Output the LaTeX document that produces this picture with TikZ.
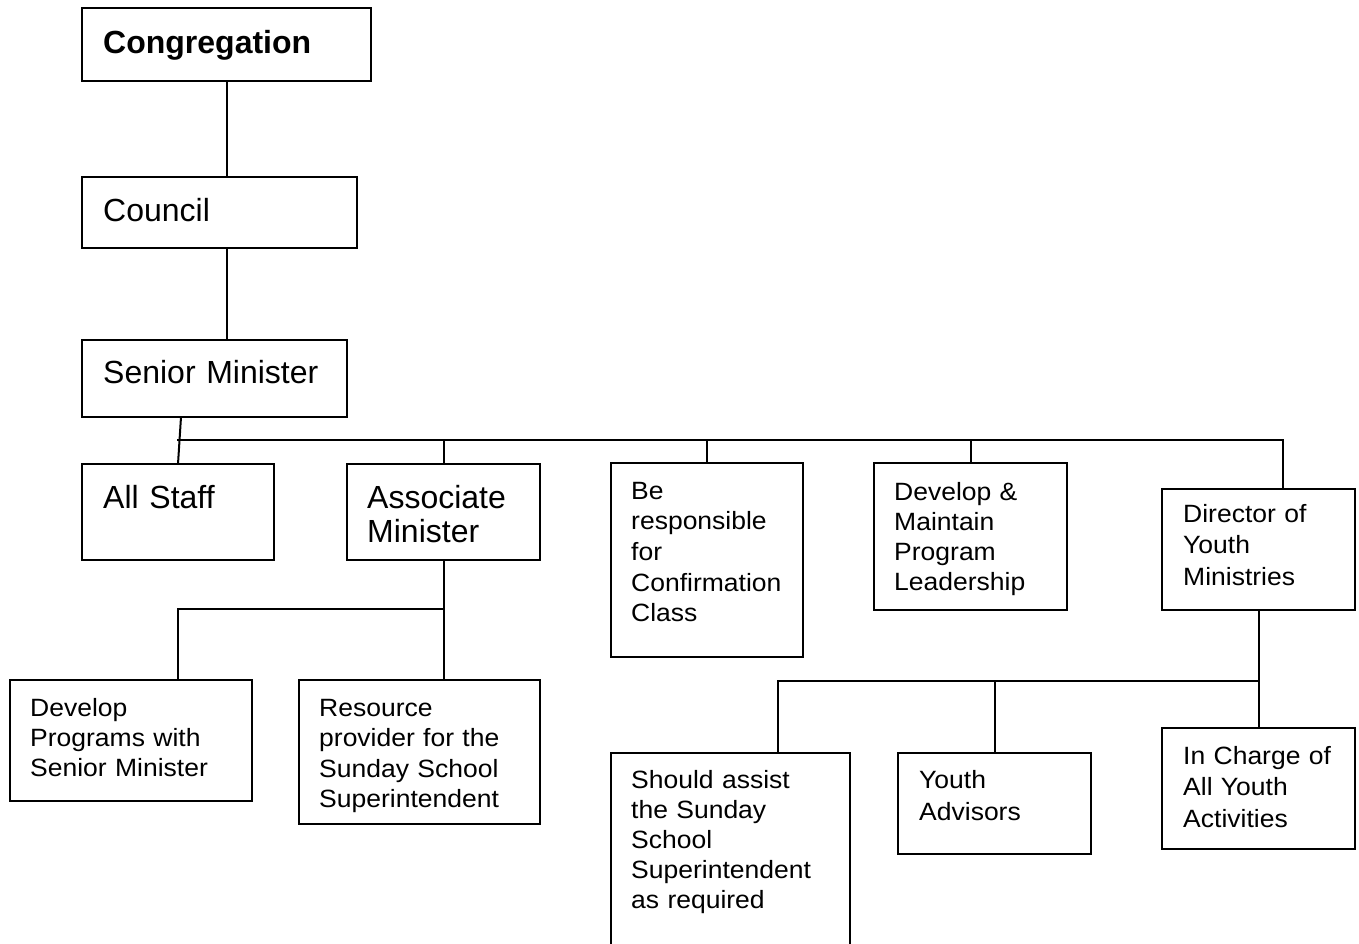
\documentclass[tikz,border=0pt]{standalone}
\usepackage{fontspec}
\setmainfont{Liberation Sans}
\newfontfamily\smallfam[FakeStretch=1.06]{Liberation Sans}
\usetikzlibrary{calc}
\tikzset{
  box/.style={draw=black, line width=2pt, rectangle, inner sep=0pt, outer sep=0pt, anchor=north west},
  link/.style={draw=black, line width=2pt},
  bigtxt/.style={anchor=base west, inner sep=0pt, text width=300pt, align=left},
  smalltxt/.style={anchor=base west, inner sep=0pt, text width=300pt, align=left},
}
\begin{document}
\begin{tikzpicture}[x=1pt, y=-1pt]
\clip (0,0) rectangle (1359,943);
\fill[white] (0,0) rectangle (1359,943);
% boxes
\node[box, minimum width=289, minimum height=73] (cong) at (82,8) {};
\node[box, minimum width=275, minimum height=71] (council) at (82,177) {};
\node[box, minimum width=265, minimum height=77] (senior) at (82,340) {};
\node[box, minimum width=192, minimum height=96] (allstaff) at (82,464) {};
\node[box, minimum width=193, minimum height=96] (assoc) at (347,464) {};
\node[box, minimum width=192, minimum height=194] (conf) at (611,463) {};
\node[box, minimum width=193, minimum height=147] (devm) at (874,463) {};
\node[box, minimum width=193, minimum height=121] (director) at (1162,489) {};
\node[box, minimum width=242, minimum height=121] (devp) at (10,680) {};
\node[box, minimum width=241, minimum height=144] (resource) at (299,680) {};
\node[box, minimum width=239, minimum height=220] (should) at (611,753) {};
\node[box, minimum width=193, minimum height=101] (youthadv) at (898,753) {};
\node[box, minimum width=193, minimum height=121] (incharge) at (1162,728) {};
% texts
\node[bigtxt, font=\bfseries\fontsize{32}{34}\selectfont] (congT) at (103,53) {Congregation};
\node[bigtxt, font=\fontsize{32}{34}\selectfont] (councilT) at (103,221) {Council};
\node[bigtxt, font=\fontsize{32}{34}\selectfont] (seniorT) at (103,383) {Senior Minister};
\node[bigtxt, font=\fontsize{32}{34}\selectfont] (allstaffT) at (103,508) {All Staff};
\node[bigtxt, font=\fontsize{32}{34}\selectfont] (assocT) at (367,508) {Associate\\Minister};
\node[smalltxt, font=\smallfam\fontsize{25}{30.7}\selectfont] (confT) at (631,499) {Be\\responsible\\for\\Confirmation\\Class};
\node[smalltxt, font=\smallfam\fontsize{25}{30}\selectfont] (devmT) at (894,500) {Develop \&\\Maintain\\Program\\Leadership};
\node[smalltxt, font=\smallfam\fontsize{25}{31.5}\selectfont] (dirT) at (1183,522) {Director of\\Youth\\Ministries};
\node[smalltxt, font=\smallfam\fontsize{25}{30}\selectfont] (devpT) at (30,716) {Develop\\Programs with\\Senior Minister};
\node[smalltxt, font=\smallfam\fontsize{25}{30.5}\selectfont] (resT) at (319,716) {Resource\\provider for the\\Sunday School\\Superintendent};
\node[smalltxt, font=\smallfam\fontsize{25}{30}\selectfont] (shouldT) at (631,788) {Should assist\\the Sunday\\School\\Superintendent\\as required};
\node[smalltxt, font=\smallfam\fontsize{25}{32}\selectfont] (youthT) at (919,788) {Youth\\Advisors};
\node[smalltxt, font=\smallfam\fontsize{25}{31.5}\selectfont] (inchT) at (1183,764) {In Charge of\\All Youth\\Activities};
% junction coordinates
\coordinate (spine) at (227,0);
\coordinate (busL) at (177,440);
\coordinate (busR) at (1283,440);
\coordinate (assocBus) at (178,609);
\coordinate (youthBus) at (778,681);
% connectors
\draw[link] (spine |- cong.south) -- (spine |- council.north);
\draw[link] (spine |- council.south) -- (spine |- senior.north);
\draw[link] ($(senior.south west)+(99,0)$) -- ($(allstaff.north west)+(96,0)$);
\draw[link] (busL) -- (busR) -- (busR |- director.north);
\draw[link] (assoc.north |- busL) -- (assoc.north);
\draw[link] (conf.north |- busL) -- (conf.north);
\draw[link] (devm.north |- busL) -- (devm.north);
\draw[link] (assoc.south) -- (assoc.south |- resource.north);
\draw[link] (assoc.south |- assocBus) -- (assocBus) -- (assocBus |- devp.north);
\draw[link] (director.south) -- (incharge.north);
\draw[link] (director.south |- youthBus) -- (youthBus) -- (youthBus |- should.north);
\draw[link] (youthadv.north |- youthBus) -- (youthadv.north);
\end{tikzpicture}
\end{document}
